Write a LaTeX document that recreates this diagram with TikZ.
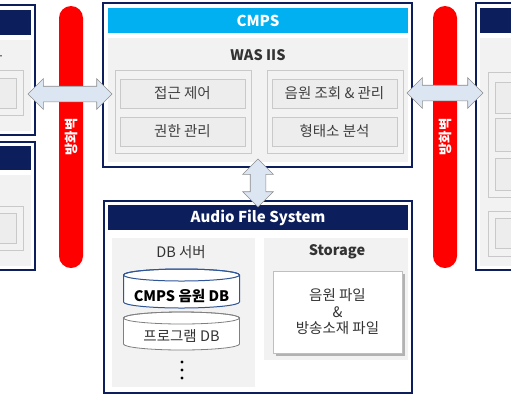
\documentclass[tikz,border=0pt]{standalone}
\usepackage{fontspec}
\setmainfont{Noto Sans CJK KR}
\usetikzlibrary{positioning,shapes.arrows,shadows}

\definecolor{navy}{HTML}{0C1E5B}
\definecolor{cmpscyan}{HTML}{00B0F0}
\definecolor{panelgray}{HTML}{F2F2F2}
\definecolor{itemgray}{HTML}{EDEDED}
\definecolor{linegray}{HTML}{C9C9C9}
\definecolor{arrowblue}{HTML}{DCE6F2}
\definecolor{arrowline}{HTML}{8C8C8C}
\definecolor{dbblue}{HTML}{2F5597}
\definecolor{walred}{HTML}{FF0000}

\tikzset{
    box/.style={draw=navy, line width=2.2pt, fill=white, inner sep=0pt},
    headbar/.style={fill=navy, text=white, font=\bfseries\fontsize{15}{17}\selectfont, inner sep=0pt},
    panel/.style={fill=panelgray, inner sep=0pt},
    subpanel/.style={draw=linegray, fill=panelgray, line width=0.8pt, inner sep=0pt},
    item/.style={draw=linegray, fill=itemgray, line width=0.8pt, inner sep=0pt,
        font=\fontsize{14.5}{16}\selectfont, text=black!75},
    title/.style={font=\bfseries\fontsize{14.5}{16}\selectfont, text=black!80},
    wall/.style={fill=walred, rounded corners=12pt, inner sep=0pt,
        minimum width=24pt, minimum height=262pt},
    walltext/.style={text=white, font=\bfseries\fontsize{13.5}{15}\selectfont, rotate=90},
    bigarrow/.style={double arrow, draw=arrowline, fill=arrowblue, line width=0.6pt,
        double arrow head extend=7.5pt, inner xsep=0pt, inner ysep=7.5pt,
        double arrow head indent=0pt}
}

\begin{document}
\begin{tikzpicture}[x=1pt, y=-1pt]
    \useasboundingbox (0,0) rectangle (511,400);

    % left side boxes (cut off)
    \node[box, minimum width=95pt, minimum height=130pt, name=lefta] at (-12.5,70) {};
    \node[headbar, minimum width=91pt, minimum height=25pt, name=leftahead] at (-14.5,22.5) {};
    \node[panel, minimum width=91pt, minimum height=91pt, name=leftapanel] at (-14.5,85.5) {};
    \node[anchor=east, font=\fontsize{14.5}{16}\selectfont, text=black!75, name=leftatext] at (6,57) {사용자};
    \node[subpanel, minimum width=83pt, minimum height=45pt, name=leftasub] at (-18.5,92.5) {};
    \node[item, minimum width=76pt, minimum height=30pt, name=leftaitem] at (-22,93) {};

    \node[box, minimum width=95pt, minimum height=128pt, name=leftb] at (-12.5,206) {};
    \node[headbar, minimum width=91pt, minimum height=24pt, name=leftbhead] at (-14.5,158) {};
    \node[panel, minimum width=91pt, minimum height=91pt, name=leftbpanel] at (-14.5,220.5) {};
    \node[subpanel, minimum width=83pt, minimum height=44pt, name=leftbsub] at (-18.5,228) {};
    \node[item, minimum width=76pt, minimum height=30pt, name=leftbitem] at (-22,228) {};

    % right side box (cut off)
    \node[box, minimum width=124pt, minimum height=267pt, name=rightc] at (538,136.5) {};
    \node[headbar, minimum width=120pt, minimum height=25pt, name=rightchead] at (540,20.5) {};
    \node[panel, minimum width=120pt, minimum height=228pt, name=rightcpanel] at (540,152) {};
    \node[subpanel, minimum width=112pt, minimum height=125pt, name=rightcsub] at (544,134.5) {};
    \node[item, minimum width=105pt, minimum height=31pt, name=rightcitema] at (547.5,97.5) {};
    \node[item, minimum width=105pt, minimum height=33pt, name=rightcitemb] at (547.5,135) {};
    \node[item, minimum width=105pt, minimum height=32pt, name=rightcitemc] at (547.5,174) {};
    \node[subpanel, minimum width=112pt, minimum height=45pt, name=rightcsubb] at (544,234) {};
    \node[item, minimum width=105pt, minimum height=30pt, name=rightcitemd] at (547.5,233) {};

    % CMPS
    \node[box, minimum width=309pt, minimum height=164pt, name=cmps] at (257.5,85) {};
    \node[headbar, fill=cmpscyan, minimum width=300pt, minimum height=25pt, name=cmpshead] at (258,20.5) {CMPS};
    \node[panel, minimum width=300pt, minimum height=124pt, name=cmpspanel] at (258,100) {};
    \node[title, name=was] at (258,55) {WAS IIS};
    \node[subpanel, minimum width=136pt, minimum height=83pt, name=cmpsleft] at (183,111.5) {};
    \node[subpanel, minimum width=136pt, minimum height=83pt, name=cmpsright] at (335,111.5) {};
    \node[item, minimum width=125pt, minimum height=29pt, name=access] at (182.5,93.5) {접근 제어};
    \node[item, minimum width=125pt, minimum height=29pt, name=auth] at (182.5,131.5) {권한 관리};
    \node[item, minimum width=125pt, minimum height=29pt, name=search] at (334.5,93.5) {음원 조회 \& 관리};
    \node[item, minimum width=125pt, minimum height=29pt, name=morph] at (334.5,131.5) {형태소 분석};

    % Audio File System
    \node[box, minimum width=308pt, minimum height=192pt, name=afs] at (258,297) {};
    \node[headbar, minimum width=300pt, minimum height=25pt, name=afshead] at (258,217.5) {Audio File System};
    \node[panel, minimum width=143pt, minimum height=149pt, name=dbpanel] at (183.5,312.5) {};
    \node[panel, minimum width=144pt, minimum height=122pt, name=storpanel] at (336,299) {};
    \node[title, font=\fontsize{14.5}{16}\selectfont, name=dbtitle] at (181,252) {DB 서버};
    \node[title, name=stortitle] at (337,252) {Storage};
    \node[draw=black!25, fill=white, minimum width=129pt, minimum height=82pt, inner sep=0pt,
        drop shadow={shadow xshift=2.5pt, shadow yshift=-2.5pt, opacity=0.45, fill=black!60},
        align=center, font=\fontsize{14.5}{16.5}\selectfont, text=black!80, name=storfile]
        at (337.5,312) {음원 파일\\\&\\방송소재 파일};

    % databases
    \draw[draw=black!50, fill=white, line width=0.8pt]
        (123.5,318) -- (123.5,344) arc[start angle=180, end angle=360, x radius=58pt, y radius=6pt]
        -- (239.5,318) arc[start angle=0, end angle=180, x radius=58pt, y radius=6pt] -- cycle;
    \draw[draw=black!50, line width=0.8pt] (181.5,318) ellipse[x radius=58pt, y radius=6pt];
    \draw[draw=dbblue, fill=white, line width=1pt]
        (123.5,275) -- (123.5,302) arc[start angle=180, end angle=360, x radius=58pt, y radius=6pt]
        -- (239.5,275) arc[start angle=0, end angle=180, x radius=58pt, y radius=6pt] -- cycle;
    \draw[draw=dbblue, line width=1pt] (181.5,275) ellipse[x radius=58pt, y radius=6pt];
    \node[font=\bfseries\fontsize{14.5}{16}\selectfont, name=cmpsdb] at (181.5,296) {CMPS 음원 DB};
    \node[font=\fontsize{14.5}{16}\selectfont, text=black!80, name=progdb] at (181.5,336) {프로그램 DB};
    \foreach \y in {362,370,378}
        \fill (182,\y) circle (1.6pt);

    % firewalls
    \node[wall, name=walla] at (71,137) {};
    \node[walltext] at (walla) {방화벽};
    \node[wall, name=wallb] at (445,137) {};
    \node[walltext] at (wallb) {방화벽};

    % block arrows
    \node[bigarrow, minimum height=84pt, name=arrowa] at (70,94) {};
    \node[bigarrow, minimum height=76pt, name=arrowb] at (445,93) {};
    \node[bigarrow, minimum height=48pt, rotate=90, name=arrowc] at (258,183) {};
\end{tikzpicture}
\end{document}
